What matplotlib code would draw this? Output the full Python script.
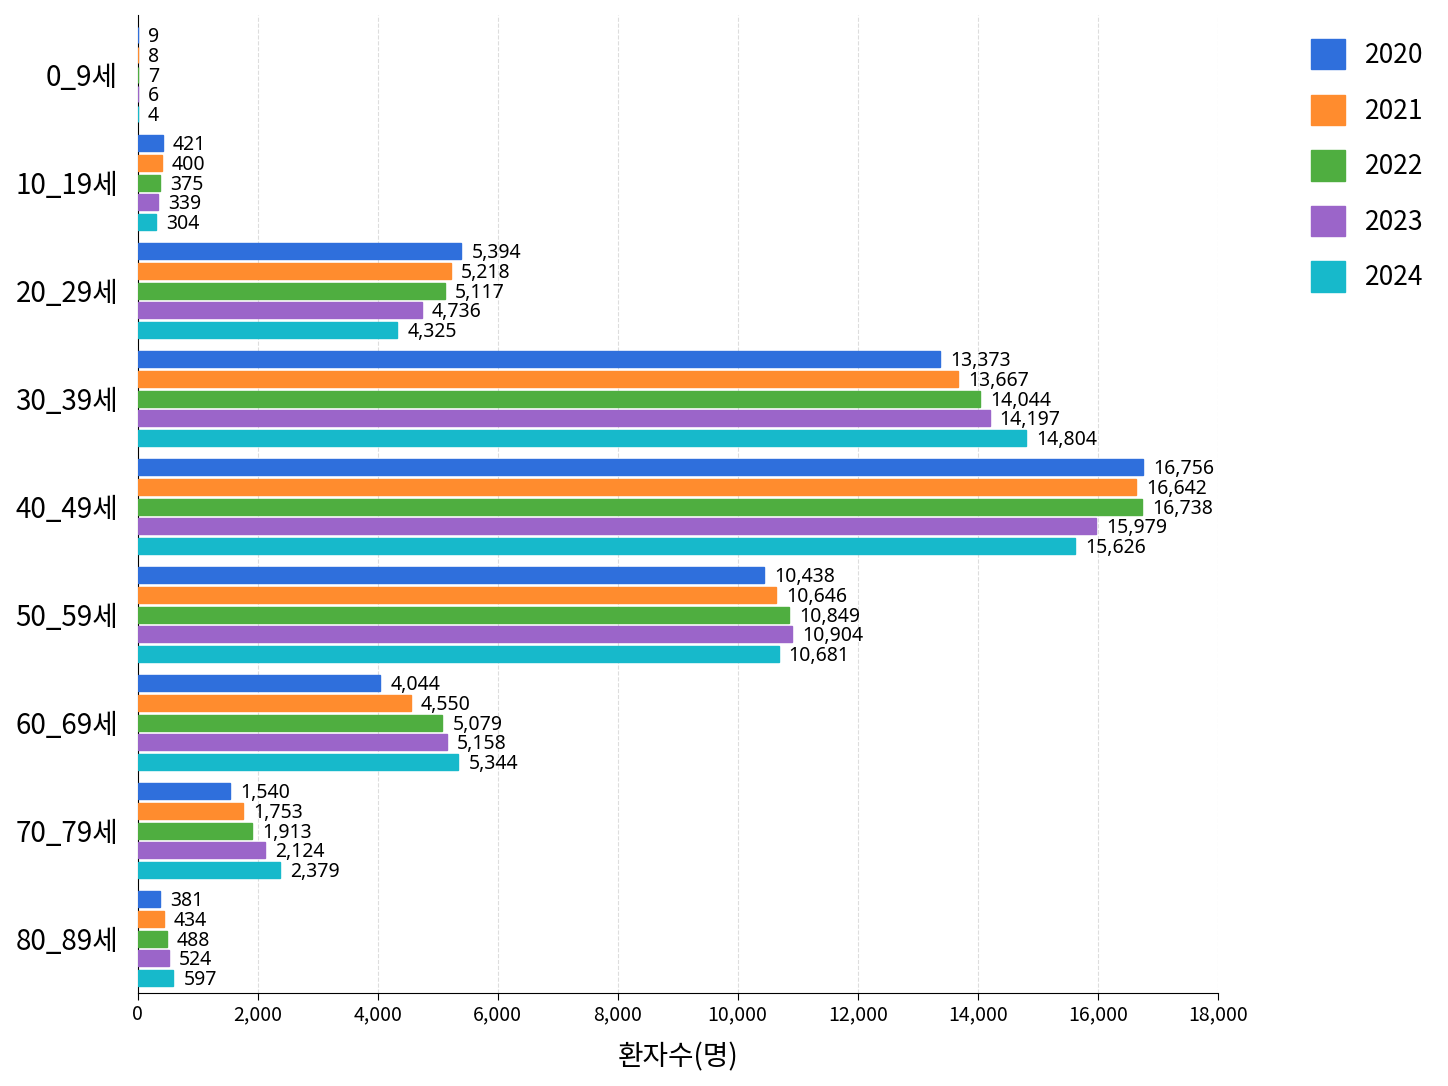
import matplotlib.pyplot as plt
import numpy as np

plt.rcParams['font.family'] = ['Noto Sans CJK KR', 'DejaVu Sans']

ages = ['0_9세', '10_19세', '20_29세', '30_39세', '40_49세', '50_59세', '60_69세', '70_79세', '80_89세']
years = ['2020', '2021', '2022', '2023', '2024']
v2020 = [9, 421, 5394, 13373, 16756, 10438, 4044, 1540, 381]
v2021 = [8, 400, 5218, 13667, 16642, 10646, 4550, 1753, 434]
v2022 = [7, 375, 5117, 14044, 16738, 10849, 5079, 1913, 488]
v2023 = [6, 339, 4736, 14197, 15979, 10904, 5158, 2124, 524]
v2024 = [4, 304, 4325, 14804, 15626, 10681, 5344, 2379, 597]
series = [v2020, v2021, v2022, v2023, v2024]
colors = ['#2f6fdc', '#ff8c2e', '#4fae40', '#9b65c9', '#17b9cb']

fig, ax = plt.subplots(figsize=(14.48, 10.86), dpi=100)
fig.subplots_adjust(left=0.095, right=0.841, top=0.986, bottom=0.086)

y = np.arange(len(ages))
step = 0.182
h = 0.15
for k, vals in enumerate(series):
    pos = y + (k - 2) * step
    ax.barh(pos, vals, height=h, color=colors[k], edgecolor=colors[k], linewidth=1,
            label=years[k], zorder=3)
    for p, v in zip(pos, vals):
        ax.text(v + 170, p + 0.02, f'{v:,}', va='center', ha='left', fontsize=14,
                family=['Noto Sans', 'DejaVu Sans'], zorder=4)

ax.set_yticks(y)
ax.set_yticklabels(ages, fontsize=20)
ax.set_ylim(len(ages) - 0.5, -0.55)
ax.set_xlim(0, 18000)
ax.set_xticks(np.arange(0, 18001, 2000))
ax.set_xticklabels([f'{t:,}' for t in range(0, 18001, 2000)], fontsize=14)
ax.set_xlabel('환자수(명)', fontsize=20, labelpad=12)
ax.tick_params(axis='y', length=0, pad=14)
ax.tick_params(axis='x', length=5)
ax.grid(axis='x', linestyle='--', color='#dddddd', linewidth=0.8, zorder=0)
ax.spines['top'].set_visible(False)
ax.spines['right'].set_visible(False)

ax.legend(loc='upper left', bbox_to_anchor=(1.064, 1.0), frameon=False, fontsize=19,
          handlelength=1.3, handleheight=1.4, labelspacing=0.95, handletextpad=0.75)

plt.savefig('out.png', dpi=100)
